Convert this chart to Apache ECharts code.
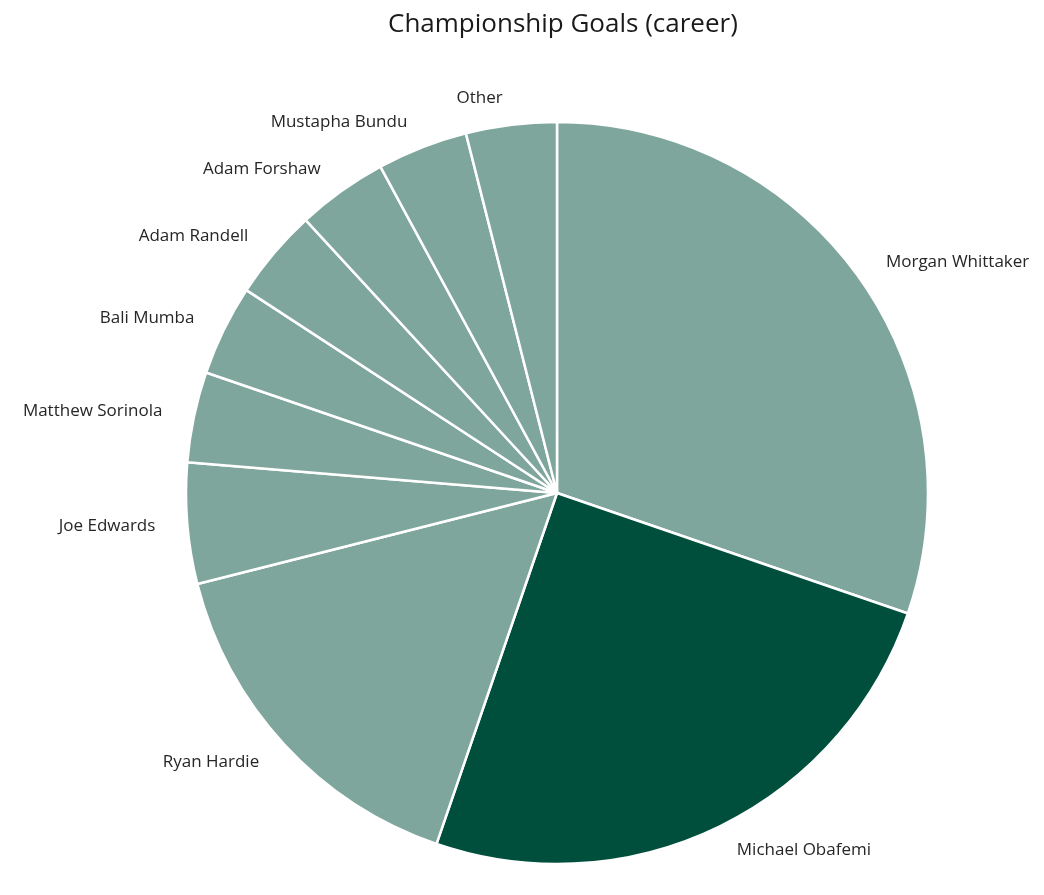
<!DOCTYPE html>
<html>
<head>
<meta charset="utf-8">
<script src="https://cdn.jsdelivr.net/npm/echarts@6/dist/echarts.min.js"></script>
<style>html,body{margin:0;padding:0;background:#fff}#c{width:1044px;height:895px}</style>
</head>
<body>
<div id="c"></div>
<script>
const players = ["Morgan Whittaker","Michael Obafemi","Ryan Hardie","Joe Edwards","Matthew Sorinola","Bali Mumba","Adam Randell","Adam Forshaw","Mustapha Bundu","Other"];
const goals = [23,19,12,4,3,3,3,3,3,3];
const highlight = "Michael Obafemi";
const lightColor = "#7FA69C";
const darkColor = "#004F3D";

const chart = echarts.init(document.getElementById('c'), null, {renderer:'canvas'});
chart.setOption({
  animation: false,
  title: {
    text: "Championship Goals (career)",
    left: 383, top: 7,
    textStyle: {fontFamily: "Open Sans", fontSize: 26, fontWeight: 'normal', color: '#1a1a1a'}
  },
  series: [{
    type: 'pie',
    center: [557, 493],
    radius: [0, 371],
    startAngle: 90,
    clockwise: true,
    avoidLabelOverlap: false,
    itemStyle: {borderColor: '#fff', borderWidth: 2.5},
    label: {
      show: true, position: 'outside',
      fontFamily: "Open Sans", fontSize: 17, color: '#262626',
      formatter: '{b}'
    },
    labelLine: {show: false, length: 27, length2: 0},
    emphasis: {disabled: true},
    data: players.map((p, i) => ({
      name: p, value: goals[i],
      itemStyle: {color: p === highlight ? darkColor : lightColor}
    }))
  }]
});
</script>
</body>
</html>
